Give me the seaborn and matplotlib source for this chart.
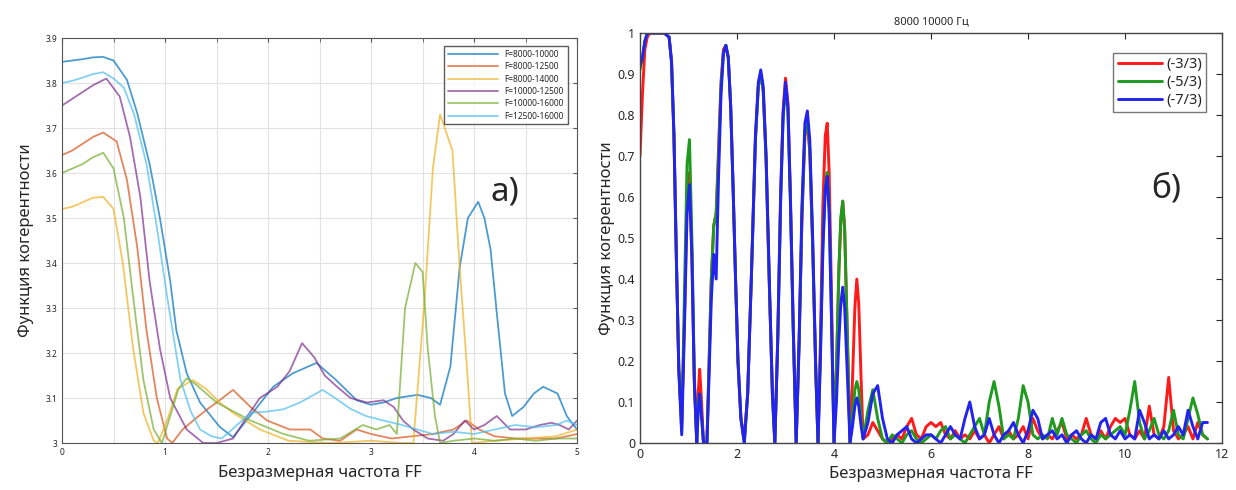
import matplotlib
matplotlib.use("Agg")
import matplotlib.pyplot as plt
import seaborn as sns
import pandas as pd
from matplotlib.ticker import MultipleLocator, FormatStrFormatter

# ---- left panel (а): six frequency bands ----
left_labels = ["F=8000-10000", "F=8000-12500", "F=8000-14000",
               "F=10000-12500", "F=10000-16000", "F=12500-16000"]
left_colors = ["#0072BD", "#D95319", "#EDB120", "#7E2F8E", "#77AC30", "#4DBEEE"]

ff_1 = [0.00, 0.10, 0.20, 0.30, 0.40, 0.50, 0.63, 0.73, 0.85, 0.95,
        1.05, 1.11, 1.21, 1.34, 1.53, 1.66, 1.85, 2.05, 2.24, 2.47,
        2.66, 2.86, 3.00, 3.12, 3.25, 3.45, 3.58, 3.67, 3.77, 3.86,
        3.94, 4.04, 4.10, 4.16, 4.22, 4.30, 4.37, 4.48, 4.58, 4.67,
        4.81, 4.90, 5.00]
coh_1 = [3.847, 3.850, 3.853, 3.857, 3.858, 3.850, 3.807, 3.733, 3.62, 3.50,
         3.36, 3.25, 3.155, 3.09, 3.036, 3.013, 3.067, 3.125, 3.155, 3.178,
         3.14, 3.095, 3.085, 3.09, 3.10, 3.107, 3.10, 3.085, 3.17, 3.39,
         3.50, 3.536, 3.50, 3.43, 3.29, 3.11, 3.06, 3.08, 3.11, 3.125,
         3.11, 3.06, 3.03]

ff_2 = [0.00, 0.10, 0.20, 0.30, 0.40, 0.53, 0.63, 0.73, 0.82, 0.92,
        1.02, 1.07, 1.17, 1.30, 1.41, 1.50, 1.66, 1.83, 1.99, 2.21,
        2.41, 2.53, 2.70, 2.86, 3.00, 3.20, 3.40, 3.60, 3.80, 3.93,
        4.05, 4.20, 4.40, 4.60, 4.80, 5.00]
coh_2 = [3.64, 3.65, 3.665, 3.68, 3.69, 3.67, 3.585, 3.435, 3.25, 3.10,
         3.01, 3.00, 3.03, 3.055, 3.075, 3.09, 3.118, 3.08, 3.05, 3.03,
         3.03, 3.01, 3.005, 3.03, 3.02, 3.01, 3.015, 3.02, 3.03, 3.05,
         3.03, 3.015, 3.01, 3.01, 3.01, 3.02]

ff_3 = [0.00, 0.10, 0.20, 0.30, 0.40, 0.50, 0.59, 0.69, 0.79, 0.89,
        0.93, 1.02, 1.12, 1.27, 1.40, 1.53, 1.66, 1.92, 2.20, 2.60,
        3.00, 3.30, 3.41, 3.52, 3.60, 3.67, 3.79, 3.86, 3.93, 3.98,
        4.20, 4.50, 4.80, 5.00]
coh_3 = [3.52, 3.525, 3.535, 3.545, 3.547, 3.52, 3.40, 3.21, 3.067, 3.005,
         3.00, 3.05, 3.12, 3.14, 3.12, 3.09, 3.067, 3.03, 3.005, 3.00,
         3.005, 3.00, 3.00, 3.32, 3.61, 3.73, 3.65, 3.39, 3.17, 3.00,
         3.005, 3.01, 3.015, 3.03]

ff_4 = [0.00, 0.10, 0.20, 0.30, 0.43, 0.56, 0.66, 0.76, 0.85, 0.95,
        1.05, 1.21, 1.37, 1.50, 1.66, 1.80, 1.92, 2.09, 2.21, 2.33,
        2.45, 2.55, 2.67, 2.80, 2.96, 3.12, 3.22, 3.31, 3.41, 3.55,
        3.70, 3.80, 3.91, 4.00, 4.10, 4.22, 4.35, 4.50, 4.64, 4.75,
        4.83, 4.92, 5.00]
coh_4 = [3.75, 3.765, 3.78, 3.795, 3.81, 3.77, 3.68, 3.547, 3.36, 3.21,
         3.10, 3.03, 3.00, 3.00, 3.01, 3.06, 3.10, 3.125, 3.16, 3.222,
         3.19, 3.15, 3.125, 3.10, 3.09, 3.095, 3.08, 3.05, 3.03, 3.01,
         3.005, 3.02, 3.05, 3.03, 3.04, 3.06, 3.03, 3.03, 3.04, 3.045,
         3.04, 3.03, 3.05]

ff_5 = [0.00, 0.10, 0.20, 0.30, 0.40, 0.50, 0.60, 0.69, 0.79, 0.89,
        0.97, 1.05, 1.13, 1.21, 1.30, 1.50, 1.83, 2.15, 2.40, 2.70,
        2.92, 3.05, 3.18, 3.25, 3.33, 3.43, 3.50, 3.55, 3.62, 3.67,
        3.80, 4.00, 4.20, 4.40, 4.60, 4.80, 5.00]
coh_5 = [3.60, 3.61, 3.62, 3.635, 3.645, 3.61, 3.50, 3.325, 3.14, 3.03,
         3.00, 3.06, 3.12, 3.144, 3.13, 3.09, 3.05, 3.02, 3.005, 3.01,
         3.04, 3.03, 3.04, 3.02, 3.30, 3.40, 3.38, 3.21, 3.06, 3.00,
         3.005, 3.01, 3.005, 3.01, 3.005, 3.01, 3.01]

ff_6 = [0.00, 0.10, 0.20, 0.30, 0.40, 0.50, 0.60, 0.70, 0.82, 0.92,
        1.02, 1.15, 1.25, 1.34, 1.45, 1.55, 1.65, 1.83, 2.00, 2.15,
        2.31, 2.53, 2.65, 2.80, 2.95, 3.12, 3.30, 3.45, 3.60, 3.80,
        4.00, 4.20, 4.40, 4.60, 4.80, 4.90, 5.00]
coh_6 = [3.80, 3.805, 3.812, 3.82, 3.824, 3.81, 3.79, 3.73, 3.62, 3.48,
         3.325, 3.14, 3.07, 3.03, 3.015, 3.01, 3.03, 3.067, 3.07, 3.075,
         3.09, 3.118, 3.10, 3.076, 3.06, 3.05, 3.04, 3.03, 3.02, 3.025,
         3.02, 3.03, 3.04, 3.035, 3.04, 3.05, 3.04]

# ---- right panel (б): 8000-10000 Hz, three configurations ----
right_labels = ["(-3/3)", "(-5/3)", "(-7/3)"]
right_colors = ["#FF1A1A", "#1E9A1E", "#2323F0"]

ff_r = [0.00, 0.05, 0.10, 0.15, 0.20, 0.30, 0.40, 0.50, 0.60, 0.65, 0.70, 0.75, 0.80, 0.86,
        0.92, 0.97, 1.02, 1.07, 1.12, 1.17,
        1.20, 1.23, 1.26, 1.31, 1.38,
        1.42, 1.47, 1.52, 1.57, 1.62, 1.67, 1.72, 1.77, 1.82, 1.87, 1.92, 1.97, 2.02, 2.08, 2.15,
        2.22, 2.30, 2.38, 2.44, 2.49, 2.54, 2.60, 2.67, 2.73, 2.78,
        2.84, 2.90, 2.95, 3.00, 3.05, 3.10, 3.16, 3.22,
        3.28, 3.34, 3.40, 3.45, 3.50, 3.56, 3.62, 3.67,
        3.72, 3.77, 3.82, 3.86, 3.90, 3.95, 4.00,
        4.05, 4.10, 4.14, 4.18, 4.22, 4.27, 4.33,
        4.38, 4.43, 4.47, 4.51, 4.56, 4.60,
        4.7, 4.8, 4.9, 5.0, 5.1, 5.2, 5.3, 5.4, 5.5, 5.6,
        5.7, 5.8, 5.9, 6.0, 6.1, 6.2, 6.3, 6.4, 6.5, 6.6,
        6.7, 6.8, 6.9, 7.0, 7.1, 7.2, 7.3, 7.4, 7.5, 7.6,
        7.7, 7.8, 7.9, 8.0, 8.1, 8.2, 8.3, 8.4, 8.5, 8.6,
        8.7, 8.8, 8.9, 9.0, 9.1, 9.2, 9.3, 9.4, 9.5, 9.6,
        9.7, 9.8, 9.9, 10.0, 10.1, 10.2, 10.3, 10.4, 10.5, 10.6,
        10.7, 10.8, 10.9, 11.0, 11.1, 11.2, 11.3, 11.4, 11.5, 11.6,
        11.7]

coh_r3 = [0.70, 0.85, 0.96, 0.99, 1.00, 1.00, 1.00, 1.00, 0.99, 0.93, 0.75, 0.45, 0.18, 0.05,
          0.32, 0.60, 0.66, 0.46, 0.15, 0.00,
          0.12, 0.18, 0.12, 0.00, 0.00,
          0.18, 0.40, 0.53, 0.56, 0.72, 0.88, 0.96, 0.97, 0.94, 0.82, 0.62, 0.40, 0.20, 0.06, 0.01,
          0.12, 0.42, 0.74, 0.87, 0.90, 0.86, 0.69, 0.37, 0.12, 0.00,
          0.26, 0.61, 0.81, 0.89, 0.83, 0.61, 0.28, 0.00,
          0.24, 0.55, 0.75, 0.78, 0.71, 0.48, 0.19, 0.00,
          0.25, 0.58, 0.75, 0.78, 0.66, 0.35, 0.00,
          0.18, 0.42, 0.54, 0.59, 0.52, 0.28, 0.00,
          0.15, 0.33, 0.40, 0.34, 0.15, 0.01,
          0.02, 0.05, 0.03, 0.01, 0.00, 0.01, 0.02, 0.01, 0.04, 0.06,
          0.02, 0.01, 0.04, 0.05, 0.04, 0.05, 0.02, 0.01, 0.03, 0.01,
          0.02, 0.01, 0.03, 0.01, 0.02, 0.00, 0.02, 0.04, 0.01, 0.03,
          0.01, 0.02, 0.04, 0.01, 0.06, 0.03, 0.01, 0.02, 0.01, 0.03,
          0.05, 0.01, 0.02, 0.01, 0.02, 0.06, 0.02, 0.01, 0.03, 0.01,
          0.04, 0.06, 0.05, 0.06, 0.02, 0.01, 0.03, 0.01, 0.09, 0.02,
          0.01, 0.04, 0.16, 0.03, 0.01, 0.02, 0.04, 0.01, 0.05, 0.02,
          0.01]

coh_r5 = [0.91, 0.94, 0.98, 1.00, 1.00, 1.00, 1.00, 1.00, 0.99, 0.93, 0.75, 0.45, 0.18, 0.03,
          0.38, 0.68, 0.74, 0.50, 0.16, 0.00,
          0.09, 0.12, 0.08, 0.00, 0.00,
          0.18, 0.40, 0.53, 0.56, 0.70, 0.87, 0.95, 0.97, 0.94, 0.82, 0.62, 0.40, 0.20, 0.06, 0.00,
          0.12, 0.42, 0.74, 0.87, 0.90, 0.86, 0.69, 0.37, 0.12, 0.00,
          0.25, 0.59, 0.79, 0.87, 0.81, 0.59, 0.27, 0.00,
          0.24, 0.56, 0.76, 0.79, 0.72, 0.48, 0.19, 0.00,
          0.22, 0.48, 0.63, 0.66, 0.57, 0.30, 0.00,
          0.18, 0.42, 0.55, 0.59, 0.52, 0.28, 0.00,
          0.06, 0.13, 0.15, 0.13, 0.06, 0.01,
          0.08, 0.13, 0.06, 0.01, 0.00, 0.02, 0.01, 0.00, 0.02, 0.03,
          0.01, 0.00, 0.01, 0.02, 0.01, 0.03, 0.04, 0.01, 0.02, 0.01,
          0.00, 0.02, 0.04, 0.06, 0.02, 0.10, 0.15, 0.09, 0.01, 0.02,
          0.01, 0.06, 0.14, 0.10, 0.02, 0.01, 0.02, 0.01, 0.06, 0.02,
          0.06, 0.02, 0.01, 0.00, 0.02, 0.03, 0.01, 0.00, 0.02, 0.01,
          0.02, 0.03, 0.04, 0.02, 0.08, 0.15, 0.05, 0.01, 0.03, 0.06,
          0.02, 0.01, 0.03, 0.08, 0.02, 0.01, 0.06, 0.11, 0.07, 0.02,
          0.01]

coh_r7 = [0.92, 0.94, 0.98, 1.00, 1.00, 1.00, 1.00, 1.00, 0.99, 0.93, 0.75, 0.45, 0.18, 0.02,
          0.30, 0.56, 0.63, 0.45, 0.15, 0.00,
          0.08, 0.12, 0.08, 0.00, 0.00,
          0.15, 0.35, 0.46, 0.40, 0.65, 0.85, 0.95, 0.97, 0.94, 0.82, 0.62, 0.40, 0.20, 0.06, 0.00,
          0.12, 0.42, 0.75, 0.88, 0.91, 0.87, 0.70, 0.38, 0.12, 0.00,
          0.25, 0.60, 0.80, 0.88, 0.82, 0.60, 0.28, 0.00,
          0.25, 0.58, 0.78, 0.81, 0.74, 0.50, 0.20, 0.00,
          0.21, 0.47, 0.62, 0.65, 0.56, 0.29, 0.00,
          0.10, 0.25, 0.34, 0.38, 0.33, 0.18, 0.00,
          0.04, 0.09, 0.11, 0.09, 0.04, 0.01,
          0.05, 0.12, 0.14, 0.06, 0.01, 0.00, 0.02, 0.03, 0.04, 0.01,
          0.00, 0.01, 0.02, 0.02, 0.01, 0.00, 0.02, 0.04, 0.02, 0.01,
          0.06, 0.10, 0.04, 0.01, 0.02, 0.06, 0.02, 0.00, 0.02, 0.03,
          0.05, 0.02, 0.00, 0.03, 0.08, 0.06, 0.01, 0.02, 0.03, 0.01,
          0.02, 0.00, 0.02, 0.03, 0.01, 0.00, 0.02, 0.01, 0.05, 0.06,
          0.02, 0.01, 0.03, 0.01, 0.02, 0.01, 0.08, 0.05, 0.01, 0.02,
          0.01, 0.03, 0.01, 0.02, 0.04, 0.02, 0.08, 0.04, 0.01, 0.05,
          0.05]

sns.set_style("white")
plt.rcParams['font.family'] = ['Noto Sans', 'DejaVu Sans']

left_df = pd.concat([
    pd.DataFrame({'FF': x, 'coh': y, 'band': lab})
    for x, y, lab in zip([ff_1, ff_2, ff_3, ff_4, ff_5, ff_6],
                         [coh_1, coh_2, coh_3, coh_4, coh_5, coh_6], left_labels)
], ignore_index=True)

right_df = pd.concat([
    pd.DataFrame({'FF': ff_r, 'coh': y, 'cfg': lab})
    for y, lab in zip([coh_r3, coh_r5, coh_r7], right_labels)
], ignore_index=True)

fig = plt.figure(figsize=(12.36, 4.9), dpi=100)
ax1 = fig.add_axes([0.0502, 0.0959, 0.4167, 0.8265])
ax2 = fig.add_axes([0.5178, 0.0959, 0.4709, 0.8367])

# left
sns.lineplot(data=left_df, x='FF', y='coh', hue='band', hue_order=left_labels,
             palette=left_colors, estimator=None, sort=True, lw=1.3, alpha=0.7,
             ax=ax1)
ax1.set_xlim(0, 5)
ax1.set_ylim(3.0, 3.9)
ax1.xaxis.set_major_locator(MultipleLocator(1))
ax1.xaxis.set_minor_locator(MultipleLocator(0.5))
ax1.yaxis.set_major_locator(MultipleLocator(0.1))
ax1.yaxis.set_major_formatter(FormatStrFormatter('%g'))
ax1.grid(True, which='both', color='#e2e2e2', lw=0.8)
ax1.tick_params(which='both', direction='in', top=True, right=True, labelsize=6,
                length=3, color='#555555')
for s in ax1.spines.values():
    s.set_color('#555555')
    s.set_linewidth(0.8)
ax1.set_xlabel('Безразмерная частота FF', fontsize=12, labelpad=6)
ax1.set_ylabel('Функция когерентности', fontsize=12, labelpad=8)
ax1.legend(loc='upper right', fontsize=6, frameon=True, fancybox=False,
           edgecolor='#333333', handlelength=6, borderpad=0.45,
           labelspacing=0.4, bbox_to_anchor=(0.99, 0.99))
ax1.text(0.86, 0.62, 'а)', transform=ax1.transAxes, fontsize=24, ha='center',
         va='center')

# right
sns.lineplot(data=right_df, x='FF', y='coh', hue='cfg', hue_order=right_labels,
             palette=right_colors, estimator=None, sort=True, lw=2.1, ax=ax2)
ax2.set_xlim(0, 12)
ax2.set_ylim(0, 1)
ax2.xaxis.set_major_locator(MultipleLocator(2))
ax2.yaxis.set_major_locator(MultipleLocator(0.1))
ax2.yaxis.set_major_formatter(FormatStrFormatter('%g'))
ax2.tick_params(direction='in', top=True, right=True, labelsize=9, length=4)
for s in ax2.spines.values():
    s.set_color('#444444')
    s.set_linewidth(1.0)
ax2.set_xlabel('Безразмерная частота FF', fontsize=12, labelpad=4)
ax2.set_ylabel('Функция когерентности', fontsize=12, labelpad=2)
ax2.set_title('8000 10000 Гц', fontsize=8, pad=6)
ax2.legend(loc='upper right', fontsize=10.5, frameon=True, fancybox=False,
           edgecolor='#555555', handlelength=3, borderpad=0.3, labelspacing=0.2,
           handletextpad=0.3, bbox_to_anchor=(0.985, 0.97))
ax2.text(0.905, 0.62, 'б)', transform=ax2.transAxes, fontsize=24, ha='center',
         va='center')

fig.savefig('out.png', dpi=100)
